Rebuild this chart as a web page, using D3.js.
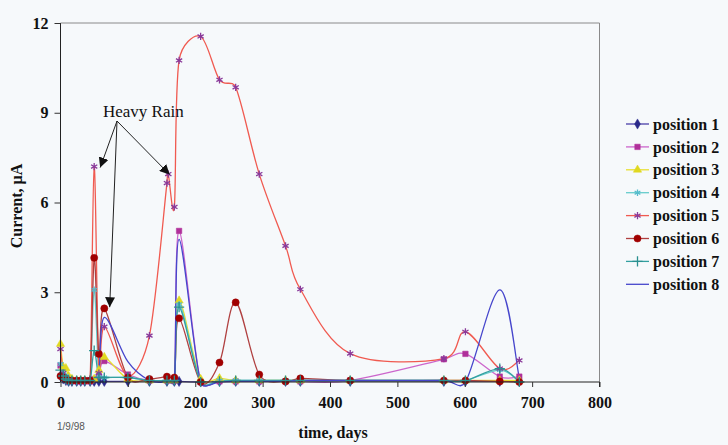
<!DOCTYPE html>
<html>
<head>
<meta charset="utf-8">
<script src="https://cdn.jsdelivr.net/npm/d3@7"></script>
<style>
  body { margin: 0; background: #f6f9fb; }
  svg { display: block; }
</style>
</head>
<body>
<div id="chart"></div>
<script>
const width = 728;
const height = 445;

// sampling days (days since 1/9/98)
const days = [0, 4, 8, 12, 17, 24, 30, 36, 44, 50, 57, 65, 100, 132, 158, 160, 169, 176, 208, 236, 260, 295, 334, 356, 430, 569, 601, 652, 681];

// current, uA, one array per position (null = not measured)
const pos1 = [0.2, 0.1, 0.05, 0.02, 0.02, 0.02, 0.02, 0.02, 0.02, 0.02, 0.02, 0.02, 0.02, 0.02, 0.02, null, 0.02, 0.02, 0.0, 0.02, 0.02, 0.02, 0.02, 0.02, 0.02, 0.02, 0.02, 0.02, 0.02];
const pos2 = [0.55, 0.2, 0.1, 0.05, 0.05, 0.02, 0.02, 0.02, 0.02, 0.1, 0.2, 0.7, 0.25, 0.05, 0.05, null, 0.05, 5.05, 0.0, 0.02, 0.02, 0.02, 0.02, 0.02, 0.05, 0.76, 0.94, 0.18, 0.18];
const pos3 = [1.27, 0.5, 0.46, 0.2, 0.1, 0.05, 0.05, 0.05, 0.05, 0.1, 0.4, 0.83, 0.1, 0.05, 0.05, null, 0.05, 2.72, 0.1, 0.12, 0.05, 0.05, 0.05, 0.05, 0.05, 0.05, 0.05, 0.05, 0.05];
const pos4 = [0.6, 0.3, 0.2, 0.1, 0.05, 0.05, 0.05, 0.05, 0.05, 3.08, 0.2, 0.15, 0.15, 0.05, 0.05, null, 0.05, 2.6, 0.02, 0.05, 0.05, 0.05, 0.05, 0.05, 0.05, 0.05, 0.05, 0.4, 0.02];
const pos5 = [1.1, 0.3, 0.15, 0.1, 0.05, 0.05, 0.05, 0.05, 0.1, 7.2, 0.3, 1.85, 0.2, 1.55, 6.65, 6.95, 5.85, 10.75, 11.55, 10.1, 9.85, 6.95, 4.55, 3.1, 0.95, 0.78, 1.68, 0.45, 0.72];
const pos6 = [0.2, 0.15, 0.1, 0.05, 0.05, 0.05, 0.05, 0.05, 0.05, 4.15, 0.94, 2.46, 0.15, 0.1, 0.18, null, 0.15, 2.13, 0.0, 0.65, 2.66, 0.25, 0.02, 0.12, 0.05, 0.05, 0.05, 0.02, 0.0];
const pos7 = [0.4, 0.2, 0.1, 0.05, 0.05, 0.05, 0.05, 0.05, 0.05, 1.05, 0.15, 0.15, 0.15, 0.05, 0.05, null, 0.05, 2.5, 0.0, 0.02, 0.05, 0.05, 0.05, 0.05, 0.05, 0.05, 0.05, 0.45, 0.0];
const pos8 = [0.3, 0.2, 0.1, 0.05, 0.05, 0.02, 0.02, 0.02, 0.02, 0.05, 0.3, 2.16, 0.68, 0.05, 0.0, null, 0.0, 4.77, 0.0, 0.0, 0.02, 0.02, 0.02, 0.05, 0.05, 0.05, 0.0, 3.08, 0.12];

const seriesNames = ["position 1", "position 2", "position 3", "position 4", "position 5", "position 6", "position 7", "position 8"];
const xTicks = [0, 100, 200, 300, 400, 500, 600, 700, 800];
const yTicks = [0, 3, 6, 9, 12];

// line colour, marker colour, marker shape
const styles = [
    {line: "#4a3fa8", mark: "#2a2a8a", sym: d3.symbolDiamond, size: 30, filled: true},
    {line: "#cc66cc", mark: "#b0309a", sym: d3.symbolSquare, size: 30, filled: true},
    {line: "#e8e030", mark: "#e0d820", sym: d3.symbolTriangle, size: 30, filled: true},
    {line: "#66cccc", mark: "#55bbcc", sym: d3.symbolAsterisk, size: 30, filled: false},
    {line: "#f05a50", mark: "#8a3a9a", sym: d3.symbolAsterisk, size: 36, filled: false},
    {line: "#b04040", mark: "#a00000", sym: d3.symbolCircle, size: 40, filled: true},
    {line: "#33a0a0", mark: "#2a9090", sym: d3.symbolPlus, size: 36, filled: false},
    {line: "#4646cc", mark: null, sym: null}
];

const serif = "'Liberation Serif', 'Times New Roman', serif";

// Spreadsheet-style smoothing: bezier with (next - prev)/6 arms,
// arms capped at half of the segment so short steps don't bulge
class SheetSmooth {
    constructor(context) { this._context = context; }
    areaStart() {}
    areaEnd() {}
    lineStart() { this._pts = []; }
    point(x, y) { this._pts.push([+x, +y]); }
    lineEnd() {
        const p = this._pts, n = p.length, c = this._context;
        if (!n) return;
        c.moveTo(p[0][0], p[0][1]);
        const tan = p.map((pt, i) => {
            const a = p[Math.max(i - 1, 0)], b = p[Math.min(i + 1, n - 1)];
            return [(b[0] - a[0]) / 6, (b[1] - a[1]) / 6];
        });
        const cap = (t, lim) => {
            const len = Math.hypot(t[0], t[1]);
            return len > lim ? [t[0] * lim / len, t[1] * lim / len] : t;
        };
        for (let i = 0; i < n - 1; i++) {
            const seg = Math.hypot(p[i + 1][0] - p[i][0], p[i + 1][1] - p[i][1]);
            const t1 = cap(tan[i], seg * 0.5);
            const t2 = cap(tan[i + 1], seg * 0.5);
            c.bezierCurveTo(p[i][0] + t1[0], p[i][1] + t1[1],
                p[i + 1][0] - t2[0], p[i + 1][1] - t2[1],
                p[i + 1][0], p[i + 1][1]);
        }
    }
}

function main() {
    const allSeries = [pos1, pos2, pos3, pos4, pos5, pos6, pos7, pos8].map((vals, i) => ({
        name: seriesNames[i],
        style: styles[i],
        points: days.map((d, j) => ({day: d, value: vals[j]})).filter(p => p.value !== null)
    }));

    const x = d3.scaleLinear().domain([0, 800]).range([60.5, 599.5]);
    const y = d3.scaleLinear().domain([0, 12]).range([382, 23]);

    const svg = d3.create("svg")
        .attr("width", width)
        .attr("height", height)
        .style("background", "#f6f9fb");

    // plot frame top and right
    svg.append("path")
        .attr("d", `M${x(0)},${y(12)}H${x(800)}V${y(0)}`)
        .attr("fill", "none")
        .attr("stroke", "#8a8a8a")
        .attr("stroke-width", 1);

    const line = d3.line()
        .x(d => x(d.day))
        .y(d => y(d.value))
        .curve(ctx => new SheetSmooth(ctx));

    const g = svg.append("g");
    allSeries.forEach(s => {
        g.append("path")
            .datum(s.points)
            .attr("fill", "none")
            .attr("stroke", s.style.line)
            .attr("stroke-width", 1.3)
            .attr("d", line);
    });
    allSeries.forEach(s => {
        if (!s.style.sym) return;
        const sym = d3.symbol().type(s.style.sym).size(s.style.size);
        g.selectAll(null)
            .data(s.points)
            .join("path")
            .attr("transform", d => `translate(${x(d.day)},${y(d.value)})`)
            .attr("d", sym)
            .attr("fill", s.style.filled ? s.style.mark : "none")
            .attr("stroke", s.style.mark)
            .attr("stroke-width", s.style.filled ? 0.5 : 1.3);
    });

    // axes
    const xAxis = d3.axisBottom(x).tickValues(xTicks).tickSize(5).tickFormat(d3.format("d"));
    const yAxis = d3.axisLeft(y).tickValues(yTicks).tickSize(6).tickFormat(d3.format("d"));

    const gx = svg.append("g")
        .attr("transform", `translate(0,${y(0)})`)
        .call(xAxis);
    gx.select(".domain").attr("stroke", "#222").attr("d", `M${x(0)},0H${x(800)}V5`);
    gx.selectAll(".tick line").attr("stroke", "#333");
    gx.selectAll(".tick text")
        .attr("font-family", serif)
        .attr("font-weight", "bold")
        .attr("font-size", 16)
        .attr("fill", "#111")
        .attr("dy", "1.15em");

    const gy = svg.append("g")
        .attr("transform", `translate(${x(0)},0)`)
        .call(yAxis);
    gy.select(".domain").attr("stroke", "#222").attr("d", `M0,${y(12)}V${y(0)}`);
    gy.selectAll(".tick line").attr("stroke", "#333");
    gy.selectAll(".tick text")
        .attr("font-family", serif)
        .attr("font-weight", "bold")
        .attr("font-size", 16)
        .attr("fill", "#111")
        .attr("x", -12);

    // axis titles
    svg.append("text")
        .attr("x", 333)
        .attr("y", 438)
        .attr("text-anchor", "middle")
        .attr("font-family", serif)
        .attr("font-weight", "bold")
        .attr("font-size", 16)
        .attr("fill", "#111")
        .text("time, days");

    svg.append("text")
        .attr("transform", "translate(22,206) rotate(-90)")
        .attr("text-anchor", "middle")
        .attr("font-family", serif)
        .attr("font-weight", "bold")
        .attr("font-size", 16)
        .attr("fill", "#111")
        .text("Current, \u00b5A");

    svg.append("text")
        .attr("x", 57)
        .attr("y", 430)
        .attr("font-family", "'Liberation Sans', Arial, sans-serif")
        .attr("font-size", 10)
        .attr("fill", "#555")
        .text("1/9/98");

    // Heavy Rain annotation
    svg.append("defs").append("marker")
        .attr("id", "head")
        .attr("viewBox", "0 0 10 10")
        .attr("refX", 10)
        .attr("refY", 5)
        .attr("markerWidth", 10)
        .attr("markerHeight", 10)
        .attr("markerUnits", "userSpaceOnUse")
        .attr("orient", "auto")
        .append("path")
        .attr("d", "M0,0L10,5L0,10Z")
        .attr("fill", "#111");

    svg.append("text")
        .attr("x", 103)
        .attr("y", 117)
        .attr("font-family", serif)
        .attr("font-size", 17)
        .attr("fill", "#111")
        .text("Heavy Rain");

    const origin = [117, 121];
    const targets = [[x(50) + 6, y(7.2) + 1], [x(73), y(2.5)], [x(159) + 2, y(7.0) + 2]];
    svg.append("g")
        .selectAll("line")
        .data(targets)
        .join("line")
        .attr("x1", origin[0])
        .attr("y1", origin[1])
        .attr("x2", d => d[0])
        .attr("y2", d => d[1])
        .attr("stroke", "#222")
        .attr("stroke-width", 1)
        .attr("marker-end", "url(#head)");

    // legend
    const legend = svg.append("g")
        .attr("transform", "translate(626,124)");
    const item = legend.selectAll("g")
        .data(allSeries)
        .join("g")
        .attr("transform", (d, i) => `translate(0,${i * 22.9})`);
    item.append("line")
        .attr("x1", 0)
        .attr("x2", 23)
        .attr("stroke", d => d.style.line)
        .attr("stroke-width", 1.3);
    item.filter(d => d.style.sym)
        .append("path")
        .attr("transform", "translate(11.5,0)")
        .attr("d", d => d3.symbol().type(d.style.sym).size(d.style.size)())
        .attr("fill", d => d.style.filled ? d.style.mark : "none")
        .attr("stroke", d => d.style.mark)
        .attr("stroke-width", d => d.style.filled ? 0.5 : 1.3);
    item.append("text")
        .attr("x", 27)
        .attr("dy", "0.35em")
        .attr("font-family", serif)
        .attr("font-weight", "bold")
        .attr("font-size", 16)
        .attr("fill", "#111")
        .text(d => d.name);

    d3.select("#chart").append(() => svg.node());
}

main();
</script>
</body>
</html>
